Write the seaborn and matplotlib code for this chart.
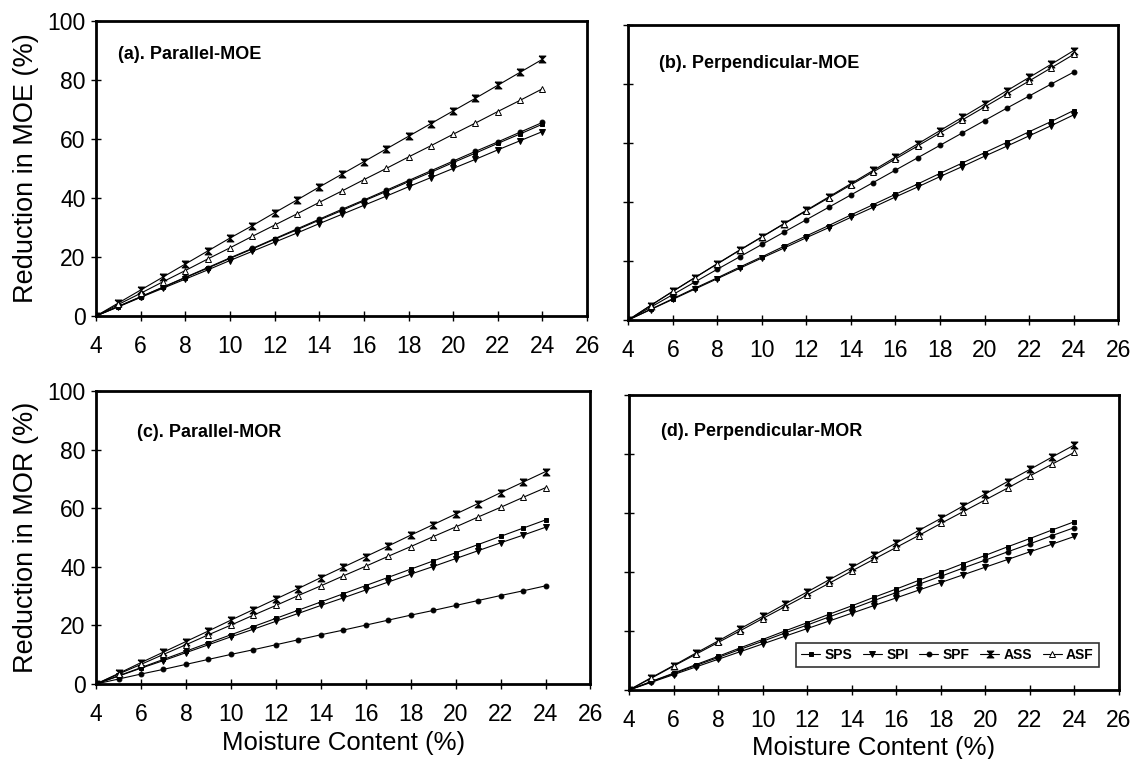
import numpy as np
import pandas as pd
import matplotlib
matplotlib.use("Agg")
import matplotlib.pyplot as plt
import seaborn as sns

# moisture content (%)
mc = list(range(4, 25))

series = ["SPS", "SPI", "SPF", "ASS", "ASF"]

# (a) Parallel-MOE
a_SPS = [0, 3.2, 6.5, 9.7, 13.0, 16.2, 19.5, 22.7, 26.0, 29.2, 32.5, 35.7, 39.0, 42.2, 45.5, 48.7, 52.0, 55.2, 58.5, 61.7, 65.0]
a_SPI = [0, 3.1, 6.3, 9.4, 12.5, 15.6, 18.8, 21.9, 25.0, 28.1, 31.3, 34.4, 37.5, 40.6, 43.8, 46.9, 50.0, 53.1, 56.3, 59.4, 62.5]
a_SPF = [0, 3.3, 6.5, 9.8, 13.1, 16.4, 19.7, 22.9, 26.2, 29.5, 32.8, 36.1, 39.3, 42.6, 45.9, 49.2, 52.5, 55.8, 59.0, 62.3, 65.6]
a_ASS = [0, 4.4, 8.8, 13.2, 17.6, 22.0, 26.4, 30.6, 35.0, 39.3, 43.7, 48.0, 52.3, 56.6, 60.9, 65.2, 69.5, 73.8, 78.2, 82.6, 87.0]
a_ASF = [0, 3.9, 7.7, 11.6, 15.4, 19.3, 23.1, 27.0, 30.8, 34.6, 38.5, 42.3, 46.2, 50.0, 53.9, 57.7, 61.6, 65.4, 69.3, 73.1, 77.0]

# (b) Perpendicular-MOE
b_SPS = [0, 3.6, 7.2, 10.8, 14.3, 17.9, 21.4, 25.0, 28.5, 32.0, 35.6, 39.1, 42.6, 46.1, 49.7, 53.2, 56.7, 60.2, 63.8, 67.3, 71.0]
b_SPI = [0, 3.5, 7.0, 10.5, 14.0, 17.5, 21.0, 24.4, 27.9, 31.3, 34.8, 38.2, 41.7, 45.1, 48.6, 52.0, 55.5, 58.9, 62.4, 65.9, 69.5]
b_SPF = [0, 4.3, 8.6, 12.9, 17.2, 21.4, 25.6, 29.8, 34.0, 38.2, 42.4, 46.6, 50.8, 55.0, 59.2, 63.4, 67.6, 71.8, 75.9, 80.0, 84.0]
b_ASS = [0, 4.9, 9.7, 14.4, 19.1, 23.7, 28.2, 32.7, 37.2, 41.7, 46.2, 50.7, 55.2, 59.7, 64.2, 68.7, 73.2, 77.7, 82.2, 86.7, 91.3]
b_ASF = [0, 4.9, 9.7, 14.4, 19.0, 23.6, 28.1, 32.6, 37.0, 41.4, 45.8, 50.2, 54.6, 59.0, 63.4, 67.8, 72.2, 76.6, 81.0, 85.5, 90.0]

# (c) Parallel-MOR
c_SPS = [0, 2.8, 5.6, 8.4, 11.2, 14.0, 16.8, 19.6, 22.4, 25.2, 28.0, 30.8, 33.6, 36.4, 39.2, 42.0, 44.8, 47.6, 50.4, 53.2, 56.0]
c_SPI = [0, 2.7, 5.4, 8.0, 10.7, 13.4, 16.1, 18.7, 21.4, 24.1, 26.8, 29.4, 32.1, 34.8, 37.5, 40.1, 42.8, 45.5, 48.2, 50.8, 53.5]
c_SPF = [0, 1.7, 3.4, 5.0, 6.7, 8.4, 10.1, 11.7, 13.4, 15.1, 16.8, 18.4, 20.1, 21.8, 23.5, 25.1, 26.8, 28.5, 30.2, 31.8, 33.5]
c_ASS = [0, 3.6, 7.3, 10.9, 14.5, 18.1, 21.8, 25.4, 29.0, 32.6, 36.3, 39.9, 43.5, 47.1, 50.8, 54.4, 58.0, 61.6, 65.3, 68.9, 72.5]
c_ASF = [0, 3.4, 6.7, 10.1, 13.4, 16.8, 20.1, 23.5, 26.8, 30.2, 33.5, 36.9, 40.2, 43.6, 46.9, 50.3, 53.6, 57.0, 60.3, 63.7, 67.0]

# (d) Perpendicular-MOR
d_SPS = [0, 2.9, 5.7, 8.6, 11.4, 14.3, 17.1, 20.0, 22.8, 25.7, 28.5, 31.4, 34.2, 37.1, 39.9, 42.8, 45.6, 48.5, 51.3, 54.2, 57.0]
d_SPI = [0, 2.6, 5.2, 7.8, 10.4, 13.0, 15.6, 18.2, 20.8, 23.4, 26.0, 28.6, 31.2, 33.8, 36.4, 39.0, 41.6, 44.2, 46.8, 49.4, 52.0]
d_SPF = [0, 2.8, 5.5, 8.3, 11.0, 13.8, 16.5, 19.3, 22.0, 24.8, 27.5, 30.3, 33.0, 35.8, 38.5, 41.3, 44.0, 46.8, 49.5, 52.3, 55.0]
d_ASS = [0, 4.2, 8.3, 12.5, 16.6, 20.8, 24.9, 29.1, 33.2, 37.4, 41.5, 45.7, 49.8, 54.0, 58.1, 62.3, 66.4, 70.6, 74.7, 78.9, 83.0]
d_ASF = [0, 4.0, 8.1, 12.1, 16.1, 20.1, 24.2, 28.2, 32.2, 36.2, 40.3, 44.3, 48.3, 52.3, 56.4, 60.4, 64.4, 68.4, 72.5, 76.5, 80.5]

xticks = list(range(4, 27, 2))
yticks = list(range(0, 101, 20))

sns.set_style("ticks")
plt.rcParams['font.family'] = ['Liberation Sans', 'DejaVu Sans']
plt.rcParams['text.color'] = 'k'
plt.rcParams['axes.labelcolor'] = 'k'

hourglass = [(-1, 1), (1, 1), (-1, -1), (1, -1), (-1, 1)]
styles = {
    "SPS": dict(marker="s", ms=3.5, mfc="k"),
    "SPI": dict(marker="v", ms=4.5, mfc="k"),
    "SPF": dict(marker="o", ms=3.5, mfc="k"),
    "ASS": dict(marker=hourglass, ms=5, mfc="k"),
    "ASF": dict(marker="^", ms=5, mfc="white"),
}

panels = [
    ("(a). Parallel-MOE", [a_SPS, a_SPI, a_SPF, a_ASS, a_ASF], [0.0847, 0.5837, 0.433, 0.3887], (0.045, 0.885)),
    ("(b). Perpendicular-MOE", [b_SPS, b_SPI, b_SPF, b_ASS, b_ASF], [0.554, 0.5784, 0.432, 0.3887], (0.063, 0.871)),
    ("(c). Parallel-MOR", [c_SPS, c_SPI, c_SPF, c_ASS, c_ASF], [0.0847, 0.0988, 0.436, 0.386], (0.083, 0.857)),
    ("(d). Perpendicular-MOR", [d_SPS, d_SPI, d_SPF, d_ASS, d_ASF], [0.5547, 0.0909, 0.432, 0.389], (0.065, 0.875)),
]

fig = plt.figure(figsize=(11.34, 7.59), dpi=100)

for i, (title, vals, pos, tpos) in enumerate(panels):
    ax = fig.add_axes(pos)
    for name, y in zip(series, vals):
        st = styles[name]
        sns.lineplot(x=mc, y=y, ax=ax, color="k", lw=0.8, marker=st["marker"],
                     markersize=st["ms"], markerfacecolor=st["mfc"],
                     markeredgecolor="k", markeredgewidth=0.7, label=name)
    ax.set_xlim(4, 26)
    ax.set_ylim(0, 100)
    ax.set_xticks(xticks)
    ax.set_yticks(yticks)
    ax.tick_params(direction="inout", length=7, width=1, labelsize=16.5, colors="k", pad=4)
    ax.tick_params(axis="x", pad=10)
    for sp in ax.spines.values():
        sp.set_visible(True)
        sp.set_linewidth(2)
        sp.set_color("k")
    ax.text(tpos[0], tpos[1], title, transform=ax.transAxes, fontsize=13,
            fontweight="bold", va="center", ha="left", color="k")
    if i in (1, 3):
        ax.set_yticklabels([])
    if i == 0:
        ax.set_ylabel("Reduction in MOE (%)", fontsize=19.5, labelpad=6)
    if i == 2:
        ax.set_ylabel("Reduction in MOR (%)", fontsize=19.5, labelpad=6)
    if i == 2:
        ax.set_xlabel("Moisture Content (%)", fontsize=18.5, labelpad=4)
    if i == 3:
        ax.set_xlabel("Moisture Content (%)", fontsize=18.5, labelpad=3)
    if i == 3:
        leg = ax.legend(ncol=5, loc="lower left", bbox_to_anchor=(0.327, 0.055, 0.646, 0.08),
                        mode="expand", frameon=True, fancybox=False, edgecolor="k",
                        handlelength=1.4, handletextpad=0.3, columnspacing=0.6,
                        borderpad=0.35, prop={"weight": "bold", "size": 10})
        leg.get_frame().set_linewidth(1.2)
        for t in leg.get_texts():
            t.set_color("k")
    else:
        ax.get_legend().remove()

fig.savefig("out.png", dpi=100)
